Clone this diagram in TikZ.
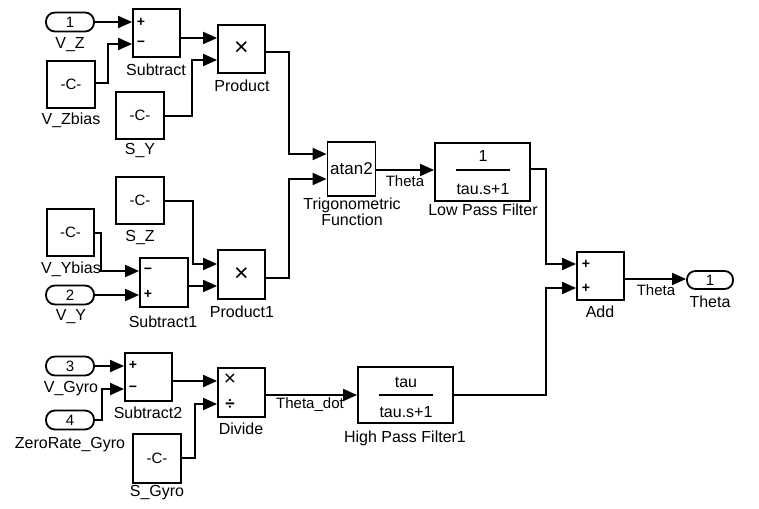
\documentclass[tikz,border=0pt]{standalone}
\usepackage{fontspec}
\setmainfont{Liberation Sans}
\usetikzlibrary{arrows.meta,calc}
\begin{document}
\begin{tikzpicture}[x=1pt,y=-1pt,
  blk/.style={draw,line width=1.8pt,minimum width=47pt,minimum height=48pt,inner sep=0pt,
    font=\fontsize{15}{17}\selectfont},
  tfblk/.style={draw,line width=1.8pt,minimum width=95pt,minimum height=57pt,inner sep=0pt},
  portblk/.style={draw,line width=1.8pt,rounded corners=9pt,minimum width=48pt,minimum height=19pt,
    inner sep=0pt,font=\fontsize{15}{17}\selectfont},
  lbl/.style={inner sep=0pt,font=\fontsize{16}{18}\selectfont},
  slbl/.style={inner sep=0pt,font=\fontsize{15}{17}\selectfont},
  sgn/.style={inner sep=0pt,font=\bfseries\fontsize{14}{14}\selectfont},
  wire/.style={line width=1.8pt},
  sig/.style={wire,-{Triangle[length=14pt,width=12pt]}}]
\useasboundingbox (0,0) rectangle (759,508);
\fill[white] (0,0) rectangle (759,508);

% ---------- inports and constants ----------
\node[portblk] (in1) at (70,22) {1};
\node[lbl] (in1l) at (70,45) {V\_Z};
\node[blk,minimum width=48pt,minimum height=47pt] (vzb) at (71,84.5) {-C-};
\node[lbl] (vzbl) at (71,120) {V\_Zbias};
\node[blk,minimum width=48pt,minimum height=47pt] (sy) at (140,115.5) {-C-};
\node[lbl] (syl) at (140,151) {S\_Y};
\node[blk,minimum width=48pt,minimum height=47pt] (sz) at (140,200.5) {-C-};
\node[lbl] (szl) at (140,238) {S\_Z};
\node[blk,minimum width=47pt,minimum height=47pt] (vyb) at (70.5,232.5) {-C-};
\node[lbl] (vybl) at (71,269) {V\_Ybias};
\node[portblk] (in2) at (70,295) {2};
\node[lbl] (in2l) at (71,317) {V\_Y};
\node[portblk] (in3) at (70,366) {3};
\node[lbl] (in3l) at (71,389) {V\_Gyro};
\node[portblk] (in4) at (70,420) {4};
\node[lbl] (in4l) at (70,445) {ZeroRate\_Gyro};
\node[blk,minimum width=48pt,minimum height=49pt] (sg) at (157,458.5) {-C-};
\node[lbl] (sgl) at (157,493) {S\_Gyro};

% ---------- sums ----------
\node[blk] (sub) at (156.5,33) {};
\node[lbl] (subl) at (156,70) {Subtract};
\node[sgn] (sub+) at (141,22.5) {+};
\node[sgn] (sub-) at (141,44) {−};

\node[blk,minimum width=48pt,minimum height=49pt] (sub1) at (164,282.5) {};
\node[lbl] (sub1l) at (163,322) {Subtract1};
\node[sgn] (sub1-) at (148,271) {−};
\node[sgn] (sub1+) at (148,294) {+};

\node[blk] (sub2) at (148.5,377) {};
\node[lbl] (sub2l) at (148,413) {Subtract2};
\node[sgn] (sub2+) at (133,365.5) {+};
\node[sgn] (sub2-) at (133,389) {−};

\node[blk] (add) at (600.5,276) {};
\node[lbl] (addl) at (600,312) {Add};
\node[sgn] (add+a) at (586,264) {+};
\node[sgn] (add+b) at (586,288) {+};

% ---------- products ----------
\node[blk] (prod) at (241.5,49) {\fontsize{25}{25}\selectfont ×};
\node[lbl] (prodl) at (242,86) {Product};
\node[blk,minimum height=49pt] (prod1) at (241.5,274.5) {\fontsize{25}{25}\selectfont ×};
\node[lbl] (prod1l) at (242,312) {Product1};
\node[blk,minimum height=49pt] (div) at (241.5,392.5) {};
\node[lbl] (divl) at (241,429) {Divide};
\node[inner sep=0pt,font=\fontsize{21}{21}\selectfont] (divx) at (230,380) {×};
\node[inner sep=0pt,font=\bfseries\fontsize{17}{17}\selectfont] (divd) at (230,405) {÷};

% ---------- atan2 and filters ----------
\node[blk,minimum width=48pt,minimum height=54pt,font=\fontsize{17}{19}\selectfont] (atan) at (351.5,169) {atan2};
\node[lbl,align=center] (atanl) at (352,212) {Trigonometric\\[-2pt]Function};

\node[tfblk,minimum height=58pt] (lpf) at (482.5,172) {};
\node[slbl,font=\fontsize{16}{18}\selectfont] (lpfn) at (483,156) {1};
\node[slbl,font=\fontsize{16}{18}\selectfont] (lpfd) at (483,189) {tau.s+1};
\draw[line width=1.6pt] (456,170) -- (510,170);
\node[lbl] (lpfl) at (483,210) {Low Pass Filter};

\node[tfblk,minimum height=56pt] (hpf) at (405.5,395) {};
\node[slbl,font=\fontsize{16}{18}\selectfont] (hpfn) at (406,382) {tau};
\node[slbl,font=\fontsize{16}{18}\selectfont] (hpfd) at (406,412) {tau.s+1};
\draw[line width=1.6pt] (379,395) -- (433,395);
\node[lbl] (hpfl) at (405,438) {High Pass Filter1};

% ---------- outport ----------
\node[portblk,minimum width=46pt,minimum height=18pt,rounded corners=8.5pt] (out1) at (710,280) {1};
\node[lbl] (out1l) at (710,302) {Theta};

% ---------- signal lines ----------
\draw[sig] (in1.east) -- (sub.west |- in1.east);
\draw[sig] (vzb.east |- 0,83) -- (108,83) |- (sub.west |- 0,44);
\draw[sig] (sub.east |- 0,38) -- (prod.west |- 0,38);
\draw[sig] (sy.east |- 0,116) -- (192,116) |- (prod.west |- 0,60);
\draw[sig] (prod.east |- 0,52) -- (289,52) |- (atan.west |- 0,154);

\draw[sig] (sz.east |- 0,201) -- (193,201) |- (prod1.west |- 0,264);
\draw[sig] (vyb.east |- 0,233) -- (101,233) |- (sub1.west |- 0,271);
\draw[sig] (in2.east) -- (sub1.west |- in2.east);
\draw[sig] (sub1.east |- 0,286) -- (prod1.west |- 0,286);
\draw[sig] (prod1.east |- 0,278) -- (289,278) |- (atan.west |- 0,179);

\draw[sig] (atan.east |- 0,170) -- (lpf.west |- 0,170);
\node[slbl] (thl1) at (405,181) {Theta};
\draw[sig] (lpf.east |- 0,169) -- (546,169) |- (add.west |- 0,264);

\draw[sig] (in3.east) -- (sub2.west |- in3.east);
\draw[sig] (in4.east) -- (102,420) |- (sub2.west |- 0,389);
\draw[sig] (sub2.east |- 0,381) -- (div.west |- 0,381);
\draw[sig] (sg.east |- 0,458) -- (195,458) |- (div.west |- 0,404);
\draw[sig] (div.east |- 0,395) -- (hpf.west |- 0,395);
\node[slbl] (thdl) at (310,405) {Theta\_dot};
\draw[sig] (hpf.east |- 0,395) -- (546,395) |- (add.west |- 0,288);

\draw[sig] (add.east |- 0,279) -- (out1.west |- 0,279);
\node[slbl] (thl2) at (656,290) {Theta};
\end{tikzpicture}
\end{document}
